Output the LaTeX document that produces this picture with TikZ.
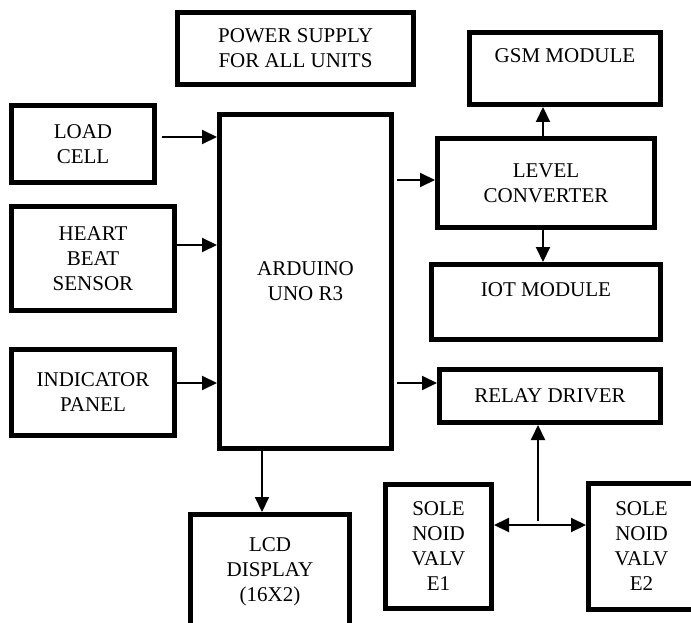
\documentclass[tikz,border=0pt]{standalone}
\usepackage{fontspec}
\setmainfont{Liberation Serif}
\usepackage{tikz}
\usetikzlibrary{arrows.meta}

\begin{document}
\begin{tikzpicture}[
    x=1pt, y=-1pt,
    >={Triangle[length=15pt,width=14pt]},
    blk/.style={rectangle, draw, line width=5pt, inner sep=0pt, align=center, font=\fontsize{21}{25}\selectfont},
    arr/.style={->, line width=2pt},
]
\useasboundingbox (0,0) rectangle (691,623);

% Inputs
\node[blk, minimum width=143pt, minimum height=77pt] (loadcell) at (83,144) {LOAD\\CELL};
\node[blk, minimum width=163pt, minimum height=104pt] (heart) at (93,258.5) {HEART\\BEAT\\SENSOR};
\node[blk, minimum width=163pt, minimum height=86pt] (indicator) at (93,392.5) {INDICATOR\\PANEL};

% Controller
\node[blk, minimum width=236pt, minimum height=72pt] (power) at (295.5,48.5) {POWER SUPPLY\\FOR ALL UNITS};
\node[blk, minimum width=172pt, minimum height=334pt] (arduino) at (305.5,281.5) {ARDUINO\\UNO R3};
\node[blk, minimum width=159pt, minimum height=115pt] (lcd) at (270,572) {LCD\\DISPLAY\\(16X2)};

% Outputs
\node[blk, minimum width=191pt, minimum height=72pt] (gsm) at (565,68.5) {GSM MODULE\\\mbox{}};
\node[blk, minimum width=217pt, minimum height=89pt] (level) at (546,183) {LEVEL\\CONVERTER};
\node[blk, minimum width=229pt, minimum height=75pt] (iot) at (546,302) {IOT MODULE\\\mbox{}};
\node[blk, minimum width=221pt, minimum height=53pt] (relay) at (550,396) {RELAY DRIVER};
\node[blk, minimum width=106pt, minimum height=124pt] (valvea) at (438.5,546.5) {SOLE\\NOID\\VALV\\E1};
\node[blk, minimum width=106pt, minimum height=126pt] (valveb) at (641.5,546.5) {SOLE\\NOID\\VALV\\E2};
\coordinate (junc) at (538,521);

% Arrows
\draw[arr] ([xshift=5pt,yshift=7pt]loadcell.east) -- ([yshift=7pt]loadcell.east -| arduino.west);
\draw[arr] ([yshift=13.5pt]heart.east) -- ([yshift=13.5pt]heart.east -| arduino.west);
\draw[arr] ([yshift=9.5pt]indicator.east) -- ([yshift=9.5pt]indicator.east -| arduino.west);
\draw[arr] ([xshift=3pt,yshift=3pt]arduino.east |- level.west) -- ([yshift=3pt]level.west);
\draw[arr] ([xshift=3pt,yshift=13pt]arduino.east |- relay.west) -- ([yshift=13pt]relay.west);
\draw[arr] ([xshift=-3pt]level.north) -- ([xshift=-3pt]level.north |- gsm.south);
\draw[arr] ([xshift=-3pt]level.south) -- ([xshift=-3pt]level.south |- iot.north);
\draw[arr] ([xshift=-8pt]lcd.north |- arduino.south) -- ([xshift=-8pt]lcd.north);
\draw[arr] (junc) -- (junc |- relay.south);
\draw[arr, <->] ([yshift=21.5pt]valvea.east) -- ([yshift=21.5pt]valvea.east -| valveb.west);

\end{tikzpicture}
\end{document}
